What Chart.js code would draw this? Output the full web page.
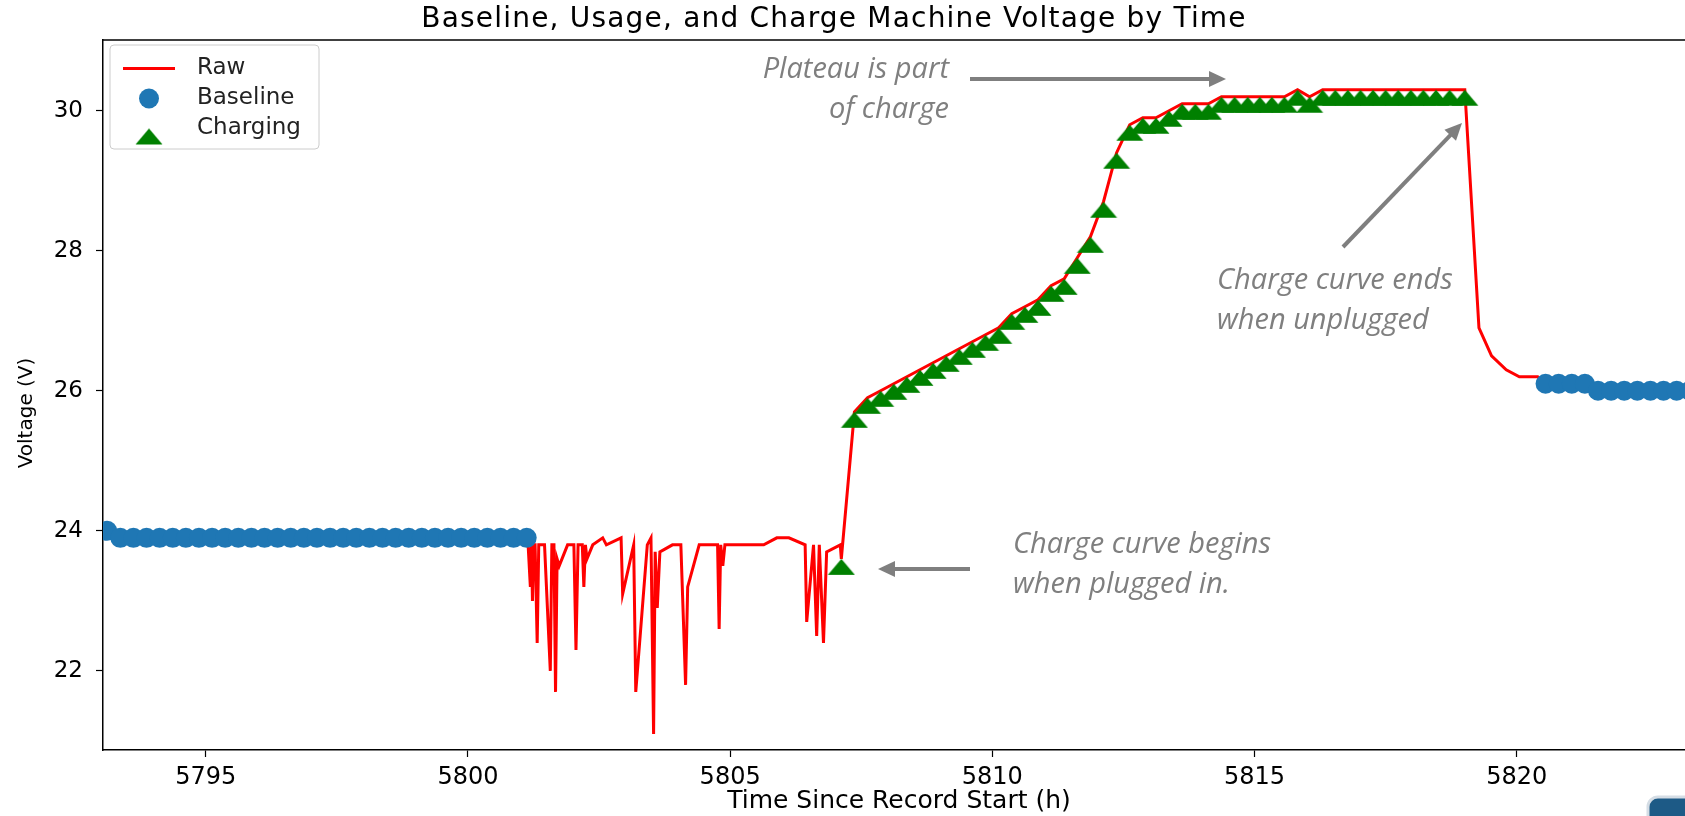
<!DOCTYPE html>
<html>
<head>
<meta charset="utf-8">
<script src="https://cdn.jsdelivr.net/npm/chart.js@4.4.0/dist/chart.umd.min.js"></script>
<style>
html, body { margin: 0; padding: 0; background: #fff; overflow: hidden; }
canvas { display: block; }
</style>
</head>
<body>
<canvas id="voltChart" width="1705" height="816"></canvas>
<script>
// raw voltage trace (h since record start, V)
const rawHours = [
    5793.12, 5793.37, 5801.14,
    5801.19, 5801.21, 5801.23, 5801.25, 5801.28, 5801.32, 5801.35, 5801.46, 5801.57, 5801.60,
    5801.64, 5801.67, 5801.70, 5801.74, 5801.90, 5802.02, 5802.06, 5802.10, 5802.18, 5802.21,
    5802.24, 5802.27, 5802.38, 5802.57, 5802.64, 5802.92, 5802.95, 5803.16, 5803.20, 5803.42,
    5803.49, 5803.54, 5803.57, 5803.61, 5803.66, 5803.90, 5804.06, 5804.15, 5804.19, 5804.41,
    5804.76, 5804.79, 5804.82, 5804.86, 5804.90, 5805.64, 5805.89, 5806.12, 5806.43, 5806.46,
    5806.59, 5806.65, 5806.70, 5806.78, 5806.84, 5807.10,
    5807.12, 5807.37, 5807.62, 5807.87, 5808.12, 5808.37, 5808.62, 5808.87, 5809.12, 5809.37,
    5809.62, 5809.87, 5810.12, 5810.37, 5810.62, 5810.87, 5811.12, 5811.37, 5811.62, 5811.87,
    5812.12, 5812.37, 5812.62, 5812.87, 5813.12, 5813.37, 5813.62, 5813.87, 5814.12, 5814.37,
    5815.57, 5815.82, 5816.05, 5816.30, 5819.01,
    5819.28, 5819.52, 5819.80, 5820.05, 5820.40, 5820.55, 5821.30, 5821.55, 5823.40
];
const rawVolts = [
    24.0, 23.9, 23.9,
    23.2, 23.8, 23.0, 23.8, 23.8, 22.4, 23.8, 23.8, 22.0, 23.8,
    23.8, 21.7, 23.6, 23.5, 23.8, 23.8, 22.3, 23.8, 23.8, 23.2,
    23.8, 23.6, 23.8, 23.9, 23.8, 23.9, 23.1, 23.8, 21.7, 23.8,
    23.9, 21.1, 23.7, 22.9, 23.7, 23.8, 23.8, 21.8, 23.2, 23.8,
    23.8, 22.6, 23.8, 23.5, 23.8, 23.8, 23.9, 23.9, 23.8, 22.7,
    23.8, 22.5, 23.8, 22.4, 23.7, 23.8,
    23.6, 25.7, 25.9, 26.0, 26.1, 26.2, 26.3, 26.4, 26.5, 26.6,
    26.7, 26.8, 26.9, 27.1, 27.2, 27.3, 27.5, 27.6, 27.9, 28.2,
    28.7, 29.4, 29.8, 29.9, 29.9, 30.0, 30.1, 30.1, 30.1, 30.2,
    30.2, 30.3, 30.2, 30.3, 30.3,
    26.9, 26.5, 26.3, 26.2, 26.2, 26.1, 26.1, 26.0, 26.0
];

// samples tagged as baseline
const baselineHours = [
    5793.12, 5793.37, 5793.62, 5793.87, 5794.12, 5794.37, 5794.62, 5794.87, 5795.12, 5795.37,
    5795.62, 5795.87, 5796.12, 5796.37, 5796.62, 5796.87, 5797.12, 5797.37, 5797.62, 5797.87,
    5798.12, 5798.37, 5798.62, 5798.87, 5799.12, 5799.37, 5799.62, 5799.87, 5800.12, 5800.37,
    5800.62, 5800.87, 5801.12,
    5820.55, 5820.80, 5821.05, 5821.30, 5821.55, 5821.80, 5822.05, 5822.30, 5822.55, 5822.80,
    5823.05, 5823.30
];
const baselineVolts = [
    24.0, 23.9, 23.9, 23.9, 23.9, 23.9, 23.9, 23.9, 23.9, 23.9,
    23.9, 23.9, 23.9, 23.9, 23.9, 23.9, 23.9, 23.9, 23.9, 23.9,
    23.9, 23.9, 23.9, 23.9, 23.9, 23.9, 23.9, 23.9, 23.9, 23.9,
    23.9, 23.9, 23.9,
    26.1, 26.1, 26.1, 26.1, 26.0, 26.0, 26.0, 26.0, 26.0, 26.0,
    26.0, 26.0
];

// samples tagged as charging
const chargeHours = [
    5807.12, 5807.37, 5807.62, 5807.87, 5808.12, 5808.37, 5808.62, 5808.87, 5809.12, 5809.37,
    5809.62, 5809.87, 5810.12, 5810.37, 5810.62, 5810.87, 5811.12, 5811.37, 5811.62, 5811.87,
    5812.12, 5812.37, 5812.62, 5812.87, 5813.12, 5813.37, 5813.62, 5813.87, 5814.12, 5814.37,
    5814.62, 5814.87, 5815.10, 5815.33, 5815.57, 5815.82, 5816.05, 5816.30, 5816.54, 5816.78,
    5817.02, 5817.26, 5817.50, 5817.74, 5817.98, 5818.22, 5818.46, 5818.72, 5819.01
];
const chargeVolts = [
    23.6, 25.7, 25.9, 26.0, 26.1, 26.2, 26.3, 26.4, 26.5, 26.6,
    26.7, 26.8, 26.9, 27.1, 27.2, 27.3, 27.5, 27.6, 27.9, 28.2,
    28.7, 29.4, 29.8, 29.9, 29.9, 30.0, 30.1, 30.1, 30.1, 30.2,
    30.2, 30.2, 30.2, 30.2, 30.2, 30.3, 30.2, 30.3, 30.3, 30.3,
    30.3, 30.3, 30.3, 30.3, 30.3, 30.3, 30.3, 30.3, 30.3
];

const xRange = [5793.04, 5823.40];
const yRange = [20.87, 31.01];
const xTickStep = 5;
const yTickStep = 2;

function toPoints(xs, ys) {
    return xs.map((x, i) => ({ x: x, y: ys[i] }));
}

// matplotlib style "^" marker, apex sits on the value
const triangleMarker = document.createElement('canvas');
triangleMarker.width = 28;
triangleMarker.height = 34;
const tctx = triangleMarker.getContext('2d');
tctx.fillStyle = '#008000';
tctx.beginPath();
tctx.moveTo(14, 17);
tctx.lineTo(27.5, 33);
tctx.lineTo(0.5, 33);
tctx.closePath();
tctx.fill();

const notes = [
    { lines: ['Plateau is part', 'of charge'], x: 949, y: 78, align: 'right' },
    { lines: ['Charge curve ends', 'when unplugged'], x: 1217, y: 289, align: 'left' },
    { lines: ['Charge curve begins', 'when plugged in.'], x: 1013, y: 553, align: 'left' }
];
const arrows = [
    [970, 79, 1226, 79],
    [1343, 247, 1462, 123],
    [970, 569, 878, 569]
];

const overlay = {
    id: 'overlay',
    afterDraw(chart) {
        const ctx = chart.ctx;
        const area = chart.chartArea;
        ctx.save();

        // top spine
        ctx.strokeStyle = '#000';
        ctx.lineWidth = 1.5;
        ctx.beginPath();
        ctx.moveTo(area.left, area.top);
        ctx.lineTo(area.right, area.top);
        ctx.stroke();

        // title
        ctx.fillStyle = '#000';
        ctx.font = '28px "DejaVu Sans"';
        ctx.letterSpacing = '1.2px';
        ctx.textAlign = 'center';
        ctx.textBaseline = 'middle';
        ctx.fillText('Baseline, Usage, and Charge Machine Voltage by Time', 834, 20);
        ctx.letterSpacing = '0px';

        // y axis label, sits a bit below the axis middle in the original
        ctx.save();
        ctx.translate(27, 413);
        ctx.rotate(-Math.PI / 2);
        ctx.font = '20px "DejaVu Sans"';
        ctx.fillText('Voltage (V)', 0, 0);
        ctx.restore();

        // legend box
        ctx.fillStyle = 'rgba(255,255,255,0.8)';
        ctx.strokeStyle = '#cccccc';
        ctx.lineWidth = 1;
        ctx.beginPath();
        ctx.roundRect(110, 45, 209, 104, 4);
        ctx.fill();
        ctx.stroke();
        ctx.font = '23px "DejaVu Sans"';
        ctx.textAlign = 'left';
        chart.data.datasets.forEach((ds, i) => {
            const y = 68.5 + i * 30;
            if (ds.showLine) {
                ctx.strokeStyle = ds.borderColor;
                ctx.lineWidth = ds.borderWidth;
                ctx.beginPath();
                ctx.moveTo(123, y);
                ctx.lineTo(175, y);
                ctx.stroke();
            } else if (ds.pointStyle === 'circle') {
                ctx.fillStyle = ds.backgroundColor;
                ctx.beginPath();
                ctx.arc(149, y, ds.pointRadius, 0, Math.PI * 2);
                ctx.fill();
            } else {
                ctx.drawImage(ds.pointStyle, 149 - ds.pointStyle.width / 2, y - ds.pointStyle.height / 2);
            }
            ctx.fillStyle = '#222';
            ctx.fillText(ds.label, 197, y);
        });

        // annotations
        ctx.fillStyle = '#7f7f7f';
        ctx.font = 'italic 29px "Open Sans"';
        ctx.textBaseline = 'alphabetic';
        notes.forEach(n => {
            ctx.textAlign = n.align;
            n.lines.forEach((t, k) => ctx.fillText(t, n.x, n.y + k * 40));
        });
        ctx.strokeStyle = '#7f7f7f';
        ctx.fillStyle = '#7f7f7f';
        ctx.lineWidth = 4;
        arrows.forEach(([x0, y0, x1, y1]) => {
            const a = Math.atan2(y1 - y0, x1 - x0);
            const head = 17;
            ctx.beginPath();
            ctx.moveTo(x0, y0);
            ctx.lineTo(x1 - Math.cos(a) * head * 0.8, y1 - Math.sin(a) * head * 0.8);
            ctx.stroke();
            ctx.beginPath();
            ctx.moveTo(x1, y1);
            ctx.lineTo(x1 - Math.cos(a) * head - Math.sin(a) * 8, y1 - Math.sin(a) * head + Math.cos(a) * 8);
            ctx.lineTo(x1 - Math.cos(a) * head + Math.sin(a) * 8, y1 - Math.sin(a) * head - Math.cos(a) * 8);
            ctx.closePath();
            ctx.fill();
        });

        // corner of the slide badge that shows in the screenshot
        ctx.fillStyle = '#1d5a86';
        ctx.strokeStyle = '#d5dde5';
        ctx.lineWidth = 3;
        ctx.beginPath();
        ctx.roundRect(1648, 797, 70, 50, 10);
        ctx.fill();
        ctx.stroke();
        ctx.restore();
    }
};

Chart.defaults.font.family = '"DejaVu Sans"';
Chart.defaults.color = '#000';

const voltChart = new Chart(document.getElementById('voltChart'), {
    type: 'scatter',
    data: {
        datasets: [
            {
                label: 'Raw',
                data: toPoints(rawHours, rawVolts),
                showLine: true,
                borderColor: '#ff0000',
                borderWidth: 3,
                pointRadius: 0,
                tension: 0,
                clip: 0,
                order: 3
            },
            {
                label: 'Baseline',
                data: toPoints(baselineHours, baselineVolts),
                pointStyle: 'circle',
                pointRadius: 10,
                backgroundColor: '#1f77b4',
                borderWidth: 0,
                clip: 0,
                order: 2
            },
            {
                label: 'Charging',
                data: toPoints(chargeHours, chargeVolts),
                pointStyle: triangleMarker,
                pointRadius: 9,
                backgroundColor: '#008000',
                borderWidth: 0,
                clip: 0,
                order: 1
            }
        ]
    },
    options: {
        responsive: false,
        animation: false,
        events: [],
        layout: { padding: { top: 40, right: 2, left: 0, bottom: 0 } },
        plugins: {
            legend: { display: false },
            tooltip: { enabled: false }
        },
        scales: {
            x: {
                type: 'linear',
                min: xRange[0],
                max: xRange[1],
                afterFit: (s) => { s.height = 66; },
                border: { color: '#000', width: 1.5 },
                grid: { drawOnChartArea: false, tickLength: 7, tickColor: '#000', tickWidth: 1.2 },
                ticks: {
                    stepSize: xTickStep,
                    includeBounds: false,
                    autoSkip: false,
                    maxRotation: 0,
                    padding: 6,
                    font: { size: 24 },
                    callback: (v) => String(v)
                },
                title: { display: true, text: 'Time Since Record Start (h)', font: { size: 25 }, padding: { top: 0, bottom: 0 } }
            },
            y: {
                min: yRange[0],
                max: yRange[1],
                afterFit: (s) => { s.width = 103; },
                border: { color: '#000', width: 1.5 },
                grid: { drawOnChartArea: false, tickLength: 7, tickColor: '#000', tickWidth: 1.2 },
                ticks: {
                    stepSize: yTickStep,
                    includeBounds: false,
                    padding: 13,
                    font: { size: 23 }
                },
                title: { display: false }
            }
        }
    },
    plugins: [overlay]
});
</script>
</body>
</html>
